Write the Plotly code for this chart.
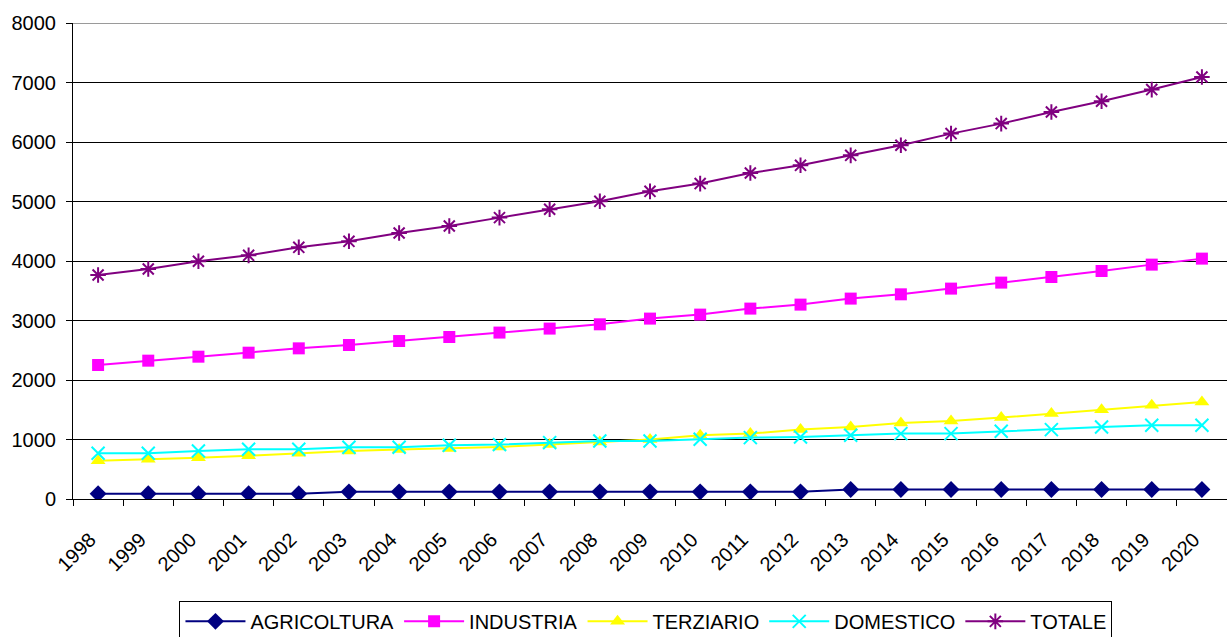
import plotly.graph_objects as go

years = [str(y) for y in range(1998, 2021)]

agricoltura = [90, 90, 90, 90, 90, 120, 120, 120, 120, 120, 120, 120, 120, 120, 120,
               160, 160, 160, 160, 160, 160, 160, 160]
industria = [2252, 2325, 2392, 2459, 2532, 2588, 2655, 2723, 2797, 2864, 2936, 3032,
             3099, 3200, 3267, 3368, 3440, 3536, 3637, 3731, 3832, 3939, 4040]
terziario = [644, 667, 695, 728, 768, 807, 830, 847, 874, 914, 958, 998,
             1071, 1099, 1168, 1210, 1277, 1311, 1368, 1435, 1502, 1575, 1630]
domestico = [768, 768, 807, 835, 835, 869, 869, 903, 914, 948, 975, 975,
             1003, 1032, 1042, 1071, 1099, 1099, 1138, 1166, 1210, 1239, 1239]
totale = [3765, 3866, 3995, 4095, 4230, 4331, 4470, 4588, 4729, 4869, 5003, 5171,
          5301, 5479, 5608, 5776, 5945, 6141, 6309, 6504, 6684, 6881, 7092]

y_ticks = [0, 1000, 2000, 3000, 4000, 5000, 6000, 7000, 8000]

FONT = "Arial, Liberation Sans, sans-serif"

series = [
    ("AGRICOLTURA", agricoltura, "#000080", dict(symbol="diamond", size=13)),
    ("INDUSTRIA", industria, "#FF00FF", dict(symbol="square", size=12)),
    ("TERZIARIO", terziario, "#FFFF00", dict(symbol="triangle-up", size=13)),
    ("DOMESTICO", domestico, "#00FFFF", dict(symbol="x-thin-open", size=13, line=dict(width=2, color="#00FFFF"))),
    ("TOTALE", totale, "#800080", dict(symbol="asterisk-open", size=13, line=dict(width=2, color="#800080"))),
]

fig = go.Figure()
for name, vals, color, mk in series:
    marker = dict(color=color, **mk)
    fig.add_trace(go.Scatter(
        x=years, y=vals, name=name, mode="lines+markers",
        line=dict(color=color, width=2), marker=marker,
    ))

fig.add_shape(type="line", xref="paper", yref="y", x0=0, x1=1, y0=8000, y1=8000,
              line=dict(color="#9a9a9a", width=2), layer="above")

fig.update_layout(
    width=1227, height=637,
    margin=dict(l=73, r=0, t=23, b=138, autoexpand=False),
    paper_bgcolor="white", plot_bgcolor="white",
    font=dict(family=FONT, size=20, color="black"),
    showlegend=True,
    legend=dict(
        orientation="h", x=0.4965, xanchor="center", y=-0.214, yanchor="top",
        bordercolor="black", borderwidth=1, bgcolor="white",
        font=dict(family=FONT, size=20, color="black"),
        itemwidth=60,
    ),
    xaxis=dict(
        type="category", range=[-0.5, 22.5], automargin=False,
        showgrid=False, showline=True, linecolor="black", linewidth=1,
        ticks="outside", tickson="boundaries", ticklen=6, tickcolor="black",
        tickangle=-45, tickfont=dict(family=FONT, size=20),
        ticklabelstandoff=20, ticklabelshift=-8,
    ),
    yaxis=dict(
        range=[0, 8000], tickvals=y_ticks, automargin=False,
        showgrid=True, gridcolor="black", gridwidth=1,
        showline=True, linecolor="black", linewidth=1,
        ticks="outside", ticklen=6, tickcolor="black",
        tickfont=dict(family=FONT, size=20), ticklabelstandoff=6,
        zeroline=False,
    ),
)

fig.write_html("out.html")
